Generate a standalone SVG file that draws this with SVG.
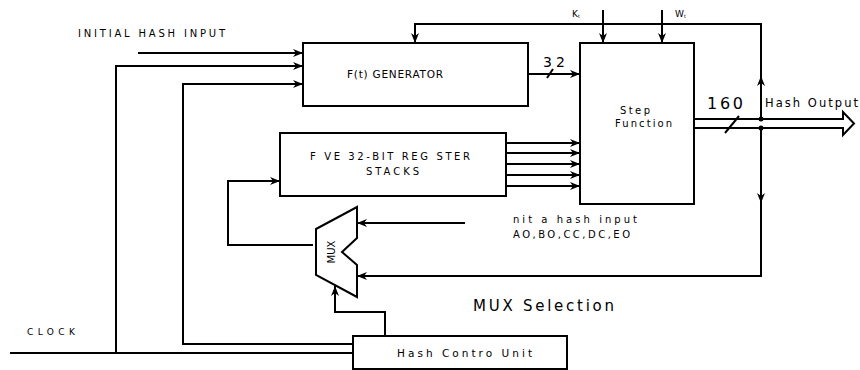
<svg xmlns="http://www.w3.org/2000/svg" width="860" height="370" viewBox="0 0 860 370">
<defs>
<marker id="ah" viewBox="0 0 10 8" refX="10" refY="4" markerWidth="10" markerHeight="8" markerUnits="userSpaceOnUse" orient="auto">
<path d="M0,0 L10,4 L0,8 L3,4 z" fill="#000"/>
</marker>
<style>
.ln{fill:none;stroke:#000;stroke-width:2}
.bx{fill:#fff;stroke:#000;stroke-width:2}
.t{font-family:"DejaVu Sans",sans-serif;fill:#000}
</style>
</defs>
<rect width="860" height="370" fill="#fff"/>

<g id="connectors">
<path class="ln" d="M138,53 H303" marker-end="url(#ah)"/>
<path class="ln" d="M116,353 V66 H303" marker-end="url(#ah)"/>
<path class="ln" d="M353,344 H183 V84 H303" marker-end="url(#ah)"/>
<path class="ln" d="M10,353 H353"/>
<path class="ln" d="M528,74 H580" marker-end="url(#ah)"/>
<path class="ln" d="M547,78 L553,69"/>
<path class="ln" d="M603,10 V43" marker-end="url(#ah)"/>
<path class="ln" d="M662,10 V43" marker-end="url(#ah)"/>
<path class="ln" d="M761,119 V24 H415 V43" marker-end="url(#ah)"/>
<path class="ln" d="M761,90 V76" marker-end="url(#ah)"/>
<path class="ln" d="M761,128 V276 H357" marker-end="url(#ah)"/>
<path class="ln" d="M761,190 V203" marker-end="url(#ah)"/>
<path class="ln" d="M465,223 H357" marker-end="url(#ah)"/>
<path class="ln" d="M313,245 H228 V181 H280" marker-end="url(#ah)"/>
<path class="ln" d="M385,336 V312 H335 V286" marker-end="url(#ah)"/>
<path class="ln" d="M506,143 H580" marker-end="url(#ah)"/>
<path class="ln" d="M506,153 H580" marker-end="url(#ah)"/>
<path class="ln" d="M506,164 H580" marker-end="url(#ah)"/>
<path class="ln" d="M506,175 H580" marker-end="url(#ah)"/>
<path class="ln" d="M506,186 H580" marker-end="url(#ah)"/>
<path class="ln" d="M694,119 H843 V112 L854,123.5 L843,135 V128 H694"/>
<path class="ln" d="M725,133 L739,116"/>
<circle cx="761" cy="119" r="2.5" fill="#000"/>
<circle cx="761" cy="128" r="2.5" fill="#000"/>
</g>

<g id="ft-generator">
<rect class="bx" x="303" y="43" width="225" height="63"/>
<text class="t" x="347" y="78" font-size="10.5" textLength="96" lengthAdjust="spacing">F(t) GENERATOR</text>
</g>

<g id="step-function">
<rect class="bx" x="580" y="43" width="114" height="161"/>
<text class="t" x="620" y="114" font-size="10" textLength="30" lengthAdjust="spacing">Step</text>
<text class="t" x="615" y="127" font-size="10" textLength="57" lengthAdjust="spacing">Function</text>
</g>

<g id="register-stacks">
<rect class="bx" x="280" y="133" width="226" height="63"/>
<text class="t" x="310" y="160" font-size="10" textLength="160" lengthAdjust="spacing">F VE 32-BIT REG STER</text>
<text class="t" x="366" y="175" font-size="10" textLength="53" lengthAdjust="spacing">STACKS</text>
</g>

<g id="mux">
<path class="bx" d="M316,229 L357,207 V238 L342,252 L357,265 V297 L316,275 Z"/>
<text class="t" transform="translate(335,252) rotate(-90)" font-size="10" text-anchor="middle">MUX</text>
</g>

<g id="hash-control">
<rect class="bx" x="353" y="336" width="214" height="33"/>
<text class="t" x="397" y="357" font-size="10.5" textLength="135" lengthAdjust="spacing">Hash Contro  Unit</text>
</g>

<g id="labels">
<text class="t" x="78" y="37" font-size="10" textLength="147" lengthAdjust="spacing">INITIAL HASH  INPUT</text>
<text class="t" x="572" y="17" font-size="9">K<tspan font-size="5" dy="1">t</tspan></text>
<text class="t" x="675" y="17" font-size="9">W<tspan font-size="5" dy="1">t</tspan></text>
<text class="t" x="543" y="67" font-size="14" textLength="22" lengthAdjust="spacing">32</text>
<text class="t" x="707" y="109" font-size="16" textLength="36" lengthAdjust="spacing">160</text>
<text class="t" x="765" y="107" font-size="11.5" textLength="93" lengthAdjust="spacing">Hash Output</text>
<text class="t" x="513" y="223" font-size="10" textLength="124" lengthAdjust="spacing">nit a hash input</text>
<text class="t" x="513" y="238" font-size="10" textLength="117" lengthAdjust="spacing">AO,BO,CC,DC,EO</text>
<text class="t" x="473" y="311" font-size="15" textLength="141" lengthAdjust="spacing">MUX Selection</text>
<text class="t" x="27" y="335" font-size="9" textLength="48" lengthAdjust="spacing">CLOCK</text>
</g>
</svg>
